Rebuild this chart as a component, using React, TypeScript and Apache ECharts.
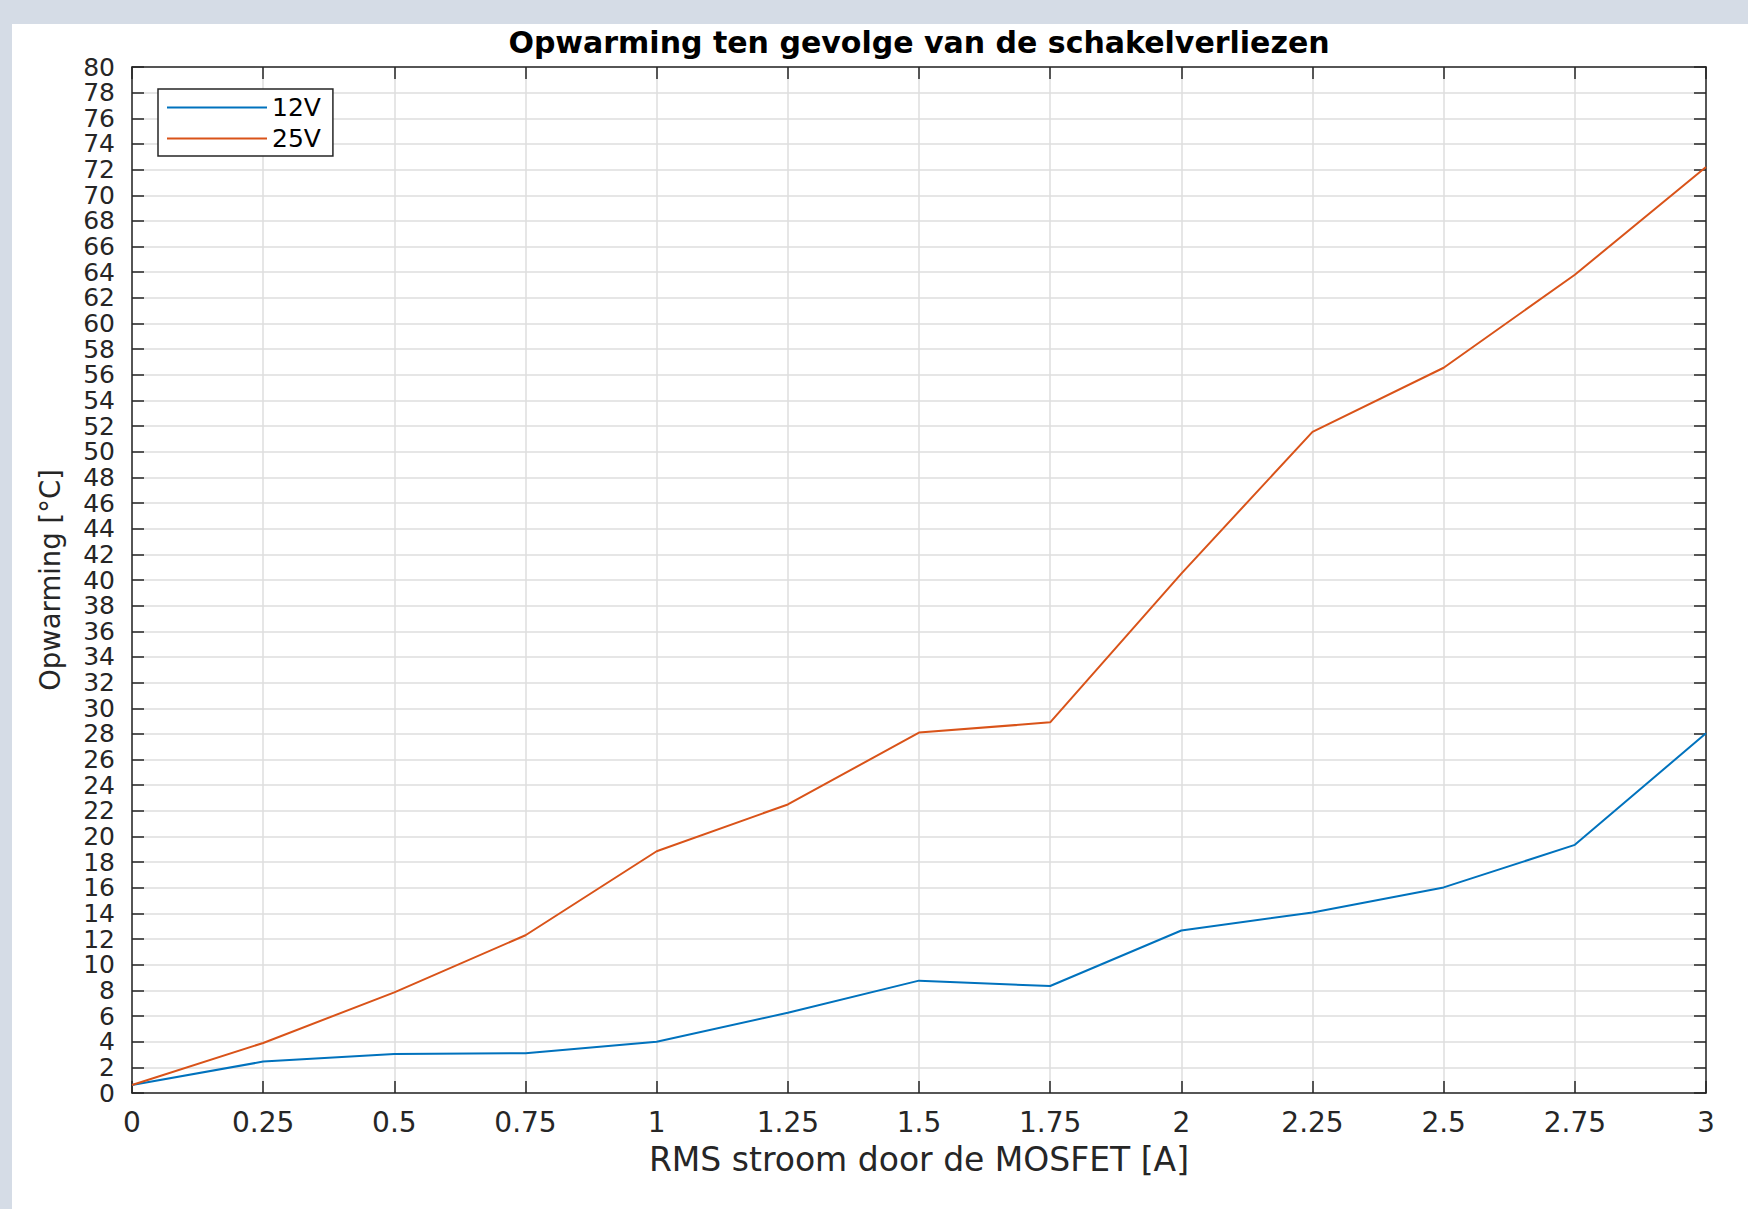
import React, { useEffect, useRef } from "react";
import * as echarts from "echarts";

const currents = [0, 0.25, 0.5, 0.75, 1, 1.25, 1.5, 1.75, 2, 2.25, 2.5, 2.75, 3];
const heating12V = [0.62, 2.45, 3.04, 3.1, 4.0, 6.26, 8.76, 8.34, 12.67, 14.08, 16.03, 19.35, 28.05];
const heating25V = [0.62, 3.9, 7.85, 12.3, 18.85, 22.5, 28.1, 28.9, 40.5, 51.55, 56.55, 63.8, 72.2];
const seriesNames = ["12V", "25V"];
const titleText = "Opwarming ten gevolge van de schakelverliezen";
const xAxisName = "RMS stroom door de MOSFET [A]";
const yAxisName = "Opwarming [°C]";

export default function App() {
  const ref = useRef<HTMLDivElement>(null);
  useEffect(() => {
    const chart = echarts.init(ref.current!, null, { renderer: "svg" });
    const axisColor = "#262626";
    const font = "'DejaVu Sans', 'Liberation Sans', Arial, sans-serif";
    const axisLine = { show: true, onZero: false, lineStyle: { color: axisColor, width: 1.5 } };
    const axisTick = { show: true, inside: true, length: 12, lineStyle: { color: axisColor, width: 1.5 } };
    const gridLine = { show: true, lineStyle: { color: "#dedede", width: 1.5 } };
    chart.setOption({
      animation: false,
      backgroundColor: "#ffffff",
      textStyle: { fontFamily: font },
      graphic: [
        {
          type: "text",
          x: 907,
          y: 18,
          style: {
            text: titleText,
            font: `bold 30px ${font}`,
            fill: "#000000",
            textAlign: "center",
            textVerticalAlign: "middle",
          },
        },
      ],
      legend: {
        data: seriesNames,
        left: 146,
        top: 65,
        orient: "vertical",
        icon: "rect",
        itemWidth: 100,
        itemHeight: 2,
        itemGap: 6,
        padding: [6, 12, 5, 9],
        borderColor: axisColor,
        borderWidth: 1.5,
        borderRadius: 0,
        backgroundColor: "#ffffff",
        textStyle: { fontSize: 25, color: "#000000", fontFamily: font },
      },
      grid: { left: 120, top: 43, width: 1574, height: 1026, containLabel: false },
      xAxis: [
        {
          type: "value",
          min: 0,
          max: 3,
          interval: 0.25,
          position: "bottom",
          name: xAxisName,
          nameLocation: "middle",
          nameGap: 50,
          nameTextStyle: { fontSize: 33, color: axisColor, fontFamily: font },
          axisLine,
          axisTick,
          axisLabel: { margin: 15, fontSize: 28, color: axisColor, fontFamily: font },
          splitLine: gridLine,
        },
        {
          type: "value",
          min: 0,
          max: 3,
          interval: 0.25,
          position: "top",
          axisLine,
          axisTick,
          axisLabel: { show: false },
          splitLine: { show: false },
        },
      ],
      yAxis: [
        {
          type: "value",
          min: 0,
          max: 80,
          interval: 2,
          position: "left",
          name: yAxisName,
          nameLocation: "middle",
          nameGap: 68,
          nameTextStyle: { fontSize: 27.5, color: axisColor, fontFamily: font },
          axisLine,
          axisTick,
          axisLabel: { margin: 17, fontSize: 25, color: axisColor, fontFamily: font },
          splitLine: gridLine,
        },
        {
          type: "value",
          min: 0,
          max: 80,
          interval: 2,
          position: "right",
          axisLine,
          axisTick,
          axisLabel: { show: false },
          splitLine: { show: false },
        },
      ],
      series: [
        {
          name: seriesNames[0],
          type: "line",
          xAxisIndex: 0,
          yAxisIndex: 0,
          data: currents.map((x, i) => [x, heating12V[i]]),
          symbol: "none",
          lineStyle: { color: "#0072BD", width: 2 },
          itemStyle: { color: "#0072BD" },
        },
        {
          name: seriesNames[1],
          type: "line",
          xAxisIndex: 0,
          yAxisIndex: 0,
          data: currents.map((x, i) => [x, heating25V[i]]),
          symbol: "none",
          lineStyle: { color: "#D95319", width: 2 },
          itemStyle: { color: "#D95319" },
        },
      ],
    });
    return () => chart.dispose();
  }, []);
  return (
    <div style={{ position: "fixed", left: 0, top: 0, width: 1748, height: 1209, background: "#d5dce6" }}>
      <div ref={ref} style={{ position: "absolute", left: 12, top: 24, width: 1736, height: 1185 }} />
    </div>
  );
}
